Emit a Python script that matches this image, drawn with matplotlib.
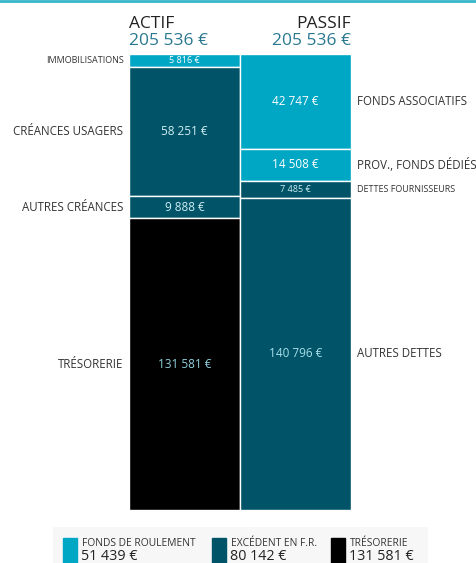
import matplotlib
matplotlib.use("Agg")
import matplotlib.pyplot as plt
import numpy as np

plt.rcParams['font.family'] = ['Open Sans', 'DejaVu Sans']

total = 205536
actif_labels = ["IMMOBILISATIONS", "CRÉANCES USAGERS", "AUTRES CRÉANCES", "TRÉSORERIE"]
actif_values = [5816, 58251, 9888, 131581]
passif_labels = ["FONDS ASSOCIATIFS", "PROV., FONDS DÉDIÉS", "DETTES FOURNISSEURS", "AUTRES DETTES"]
passif_values = [42747, 14508, 7485, 140796]
legend_labels = ["FONDS DE ROULEMENT", "EXCÉDENT EN F.R.", "TRÉSORERIE"]
legend_values = [51439, 80142, 131581]

LIGHT = "#00A7C4"
DARK = "#015468"
BLACK = "#000000"
actif_colors = [LIGHT, DARK, DARK, BLACK]
passif_colors = [LIGHT, LIGHT, DARK, DARK]
actif_fs = [6.5, 8.3, 8.3, 8.3]
passif_fs = [8.3, 8.3, 6.5, 8.3]
actif_vfs = [6.5, 8.5, 8.5, 8.5]
passif_vfs = [8.5, 8.5, 6.5, 8.5]
actif_txt = ["white", "#cfeef4", "#cfeef4", "#8fd0dc"]
passif_txt = ["white", "white", "#cfeef4", "#a8e0ea"]

def fmt(v):
    return f"{v:,}".replace(",", " ") + " €"

W, H = 476, 563
fig = plt.figure(figsize=(W/100, H/100), dpi=100)
fig.patch.set_facecolor("white")

# top rule
fig.add_artist(plt.Line2D([0, 1], [1 - 1/H, 1 - 1/H], color="#37b5c9", lw=2))

ax = fig.add_axes([129/W, (H-510)/H, 222/W, 456/H])
ax.set_xlim(0, 2)
ax.set_ylim(total, 0)
ax.axis("off")

def column(x, labels, values, colors, fss, vfss, txtc, side):
    bottoms = np.concatenate([[0], np.cumsum(values)[:-1]])
    ax.bar([x]*len(values), values, bottom=bottoms, width=1.0, color=colors,
           edgecolor="white", linewidth=1.0)
    for lab, v, b, fs, vfs, tc in zip(labels, values, bottoms, fss, vfss, txtc):
        mid = b + v/2
        ax.text(x, mid, fmt(v), ha="center", va="center", color=tc, fontsize=vfs)
        if side == "left":
            ax.text(-0.05, mid, lab, ha="right", va="center", color="#333333",
                    fontsize=fs, clip_on=False)
        else:
            ax.text(2.05, mid, lab, ha="left", va="center", color="#333333",
                    fontsize=fs, clip_on=False)

column(0.5, actif_labels, actif_values, actif_colors, actif_fs, actif_vfs, actif_txt, "left")
column(1.5, passif_labels, passif_values, passif_colors, passif_fs, passif_vfs, passif_txt, "right")

# headers
fig.text(129/W, 1 - 24/H, "ACTIF", ha="left", va="center", fontsize=12.5, color="#222222")
fig.text(129/W, 1 - 41/H, fmt(total), ha="left", va="center", fontsize=12.5, color="#2a7890")
fig.text(351/W, 1 - 24/H, "PASSIF", ha="right", va="center", fontsize=12.5, color="#222222")
fig.text(351/W, 1 - 41/H, fmt(total), ha="right", va="center", fontsize=12.5, color="#2a7890")

# legend
lax = fig.add_axes([53/W, 0, (428-53)/W, 36/H])
lax.set_xlim(53, 428)
lax.set_ylim(563, 527)
lax.axis("off")
lax.add_patch(plt.Rectangle((53, 527), 375, 36, color="#f7f7f7", zorder=0))
leg_x = [63, 212, 331]
leg_colors = [LIGHT, DARK, BLACK]
for xx, lab, v, c in zip(leg_x, legend_labels, legend_values, leg_colors):
    lax.add_patch(plt.Rectangle((xx, 538), 14, 26, color=c, zorder=1))
    lax.text(xx + 19, 543, lab, ha="left", va="center", fontsize=7.4, color="#333333")
    lax.text(xx + 18, 556, fmt(v), ha="left", va="center", fontsize=10.3, color="#222222")

fig.savefig("out.png", dpi=100)
